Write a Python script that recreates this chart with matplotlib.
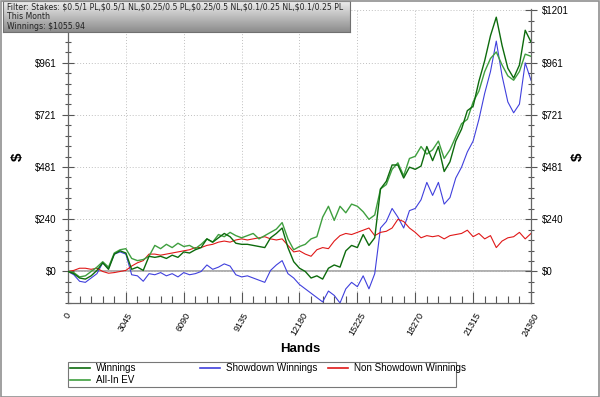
import numpy as np
import matplotlib.pyplot as plt
from matplotlib.lines import Line2D
from matplotlib.patches import Rectangle
from matplotlib.ticker import FixedLocator, MultipleLocator

# hands sampled every 304.5 hands, 0 .. 24360
hands = np.linspace(0, 24360, 81)

winnings = [
    0, -10, -30, -35, -20, 5, 40, 10, 80, 95,
    85, 10, 20, 5, 70, 65, 70, 60, 75, 65,
    90, 85, 100, 110, 150, 135, 155, 175, 160, 130,
    125, 125, 120, 115, 110, 155, 175, 200, 110, 45,
    15, 0, -30, -20, -35, 15, 30, 20, 95, 120,
    110, 170, 120, 155, 380, 415, 490, 490, 430, 480,
    470, 485, 575, 510, 575, 460, 505, 600, 655, 740,
    760, 875, 970, 1085, 1170, 1040, 935, 890, 950, 1110,
    1056,
]
allin_ev = [
    0, -5, -25, -20, 0, 20, 45, 20, 85, 100,
    105, 60, 50, 55, 70, 120, 105, 125, 110, 130,
    115, 120, 105, 125, 150, 135, 170, 160, 180, 165,
    155, 165, 175, 150, 165, 180, 195, 225, 150, 100,
    115, 125, 150, 160, 250, 300, 235, 300, 270, 310,
    300, 275, 240, 260, 380, 400, 470, 500, 440, 520,
    530, 575, 540, 560, 600, 520, 560, 620, 680, 700,
    780, 830, 920, 980, 1010, 950, 900, 880, 920, 1000,
    990,
]
showdown = [
    0, -15, -45, -50, -30, -10, 40, 15, 80, 90,
    80, -15, -20, -45, -10, -15, -5, -20, -10, -25,
    -5, -15, -10, 0, 30, 10, 20, 35, 25, -15,
    -25, -20, -30, -40, -50, 5, 30, 50, -10, -30,
    -60, -80, -100, -120, -140, -90, -110, -145, -80, -50,
    -70, -20, -80, -10, 200, 230, 290, 250, 200, 280,
    290, 330, 410, 350, 410, 310, 340, 430, 480, 550,
    600, 700, 820, 920, 1060, 900, 780, 730, 770, 960,
    880,
]
non_showdown = [
    0, 5, 15, 15, 10, 15, 0, -8, -5, 0,
    5, 25, 40, 50, 80, 80, 75, 80, 85, 90,
    95, 100, 110, 110, 120, 125, 135, 140, 135, 145,
    150, 145, 150, 155, 160, 150, 145, 150, 120, 90,
    95, 80, 70, 100, 110, 105, 140, 165, 175, 170,
    180, 190, 200, 165, 180, 185, 200, 240, 230, 200,
    180, 155, 165, 160, 165, 150, 165, 170, 175, 190,
    160, 175, 150, 165, 110, 140, 155, 160, 180, 150,
    175,
]

x_ticks = [0, 3045, 6090, 9135, 12180, 15225, 18270, 21315, 24360]
y_ticks = [0, 240.25, 480.5, 720.75, 961, 1201.25]
y_labels = ["$0", "$240", "$481", "$721", "$961", "$1201"]

series = [
    ("Winnings", winnings, "#0d6b0d", 1.0),
    ("All-In EV", allin_ev, "#3f9f3f", 1.0),
    ("Showdown Winnings", showdown, "#4040dd", 0.8),
    ("Non Showdown Winnings", non_showdown, "#e01818", 0.8),
]

W, H = 600, 397
fig = plt.figure(figsize=(6, 3.97), dpi=100)
ax = fig.add_axes([68 / W, 1 - 303 / H, (531 - 68) / W, (303 - 8.5) / H])

for z, (name, vals, col, lw) in zip([4, 3, 2, 2], series):
    ax.plot(hands, vals, color=col, lw=lw, label=name, zorder=z)

ax.axhline(0, color="#a8a8a8", lw=1.3, zorder=1)
ax.set_xlim(0, 24360)
ax.set_ylim(-145, 1210)

ax.xaxis.set_major_locator(FixedLocator(x_ticks))
ax.xaxis.set_minor_locator(MultipleLocator(609))
ax.yaxis.set_major_locator(FixedLocator(y_ticks))
ax.yaxis.set_minor_locator(MultipleLocator(48.05))
ax.set_xticklabels([str(t) for t in x_ticks], rotation=60, ha="center", va="top", fontsize=6.5,
                   family="Liberation Sans")
ax.set_yticklabels(y_labels, fontsize=7, family="Liberation Sans")
ax.tick_params(axis="y", which="both", direction="inout", right=True, labelright=True,
               colors="#555555", labelcolor="black")
ax.tick_params(axis="y", which="major", length=8, width=0.8, pad=4)
ax.tick_params(axis="y", which="minor", length=5, width=0.8)
ax.tick_params(axis="x", which="both", direction="in", colors="#555555", labelcolor="black")
ax.tick_params(axis="x", which="major", length=8, width=0.8, pad=6)
ax.tick_params(axis="x", which="minor", length=5, width=0.8)
# the left $1201 label sits under the filter box in the original
ax.yaxis.get_major_ticks()[-1].label1.set_visible(False)

ax.grid(True, which="major", ls=(0, (1, 2)), color="#c0c0c0", lw=0.7)
for side in ["left", "right", "bottom"]:
    ax.spines[side].set_color("#666666")
    ax.spines[side].set_linewidth(0.9)
ax.spines["top"].set_visible(False)

fig.text(300 / W, 1 - 349 / H, "Hands", ha="center", va="center", fontsize=9.5,
         weight="bold", family="Liberation Sans")
fig.text(18 / W, 1 - 157 / H, "$", ha="center", va="center", fontsize=11,
         weight="bold", rotation=90, family="Liberation Sans")
fig.text(578 / W, 1 - 157 / H, "$", ha="center", va="center", fontsize=11,
         weight="bold", rotation=90, family="Liberation Sans")

# legend box drawn by hand: three columns, All-In EV under Winnings
fig.patches.append(Rectangle((68 / W, 1 - 387 / H), (456 - 68) / W, 25 / H,
                             transform=fig.transFigure, facecolor="white",
                             edgecolor="#777777", lw=0.8))
leg_pos = [(70, 368), (70, 380), (200, 368), (328, 368)]
for (name, vals, col, lw), (lx, ly) in zip(series, leg_pos):
    fig.lines.append(Line2D([lx / W, (lx + 20) / W], [1 - ly / H, 1 - ly / H],
                            transform=fig.transFigure, color=col, lw=1.2))
    fig.text((lx + 26) / W, 1 - ly / H, name, ha="left", va="center", fontsize=7.1,
             family="Liberation Sans")

# filter box with vertical grey gradient
box_ax = fig.add_axes([3 / W, 1 - 32 / H, (350 - 3) / W, 31 / H])
grad = np.linspace(0.93, 0.55, 64).reshape(-1, 1)
box_ax.imshow(grad, aspect="auto", cmap="gray", vmin=0, vmax=1, extent=(0, 1, 0, 1))
box_ax.set_xticks([])
box_ax.set_yticks([])
for s in box_ax.spines.values():
    s.set_color("#707070")
    s.set_linewidth(0.8)
box_lines = [r"Filter: Stakes: \$0.5/1 PL,\$0.5/1 NL,\$0.25/0.5 PL,\$0.25/0.5 NL,\$0.1/0.25 NL,\$0.1/0.25 PL",
             "This Month", r"Winnings: \$1055.94"]
for k, line in enumerate(box_lines):
    fig.text(7 / W, 1 - (7 + 9.6 * k) / H, line, fontsize=5.6,
             family="DejaVu Sans", va="center", ha="left", color="#222222")

fig.patches.append(Rectangle((0.5 / W, 0.5 / H), 1 - 1.5 / W, 1 - 1.5 / H,
                             transform=fig.transFigure, fill=False,
                             edgecolor="#909090", lw=1.2))

fig.savefig("out.png", dpi=100)
